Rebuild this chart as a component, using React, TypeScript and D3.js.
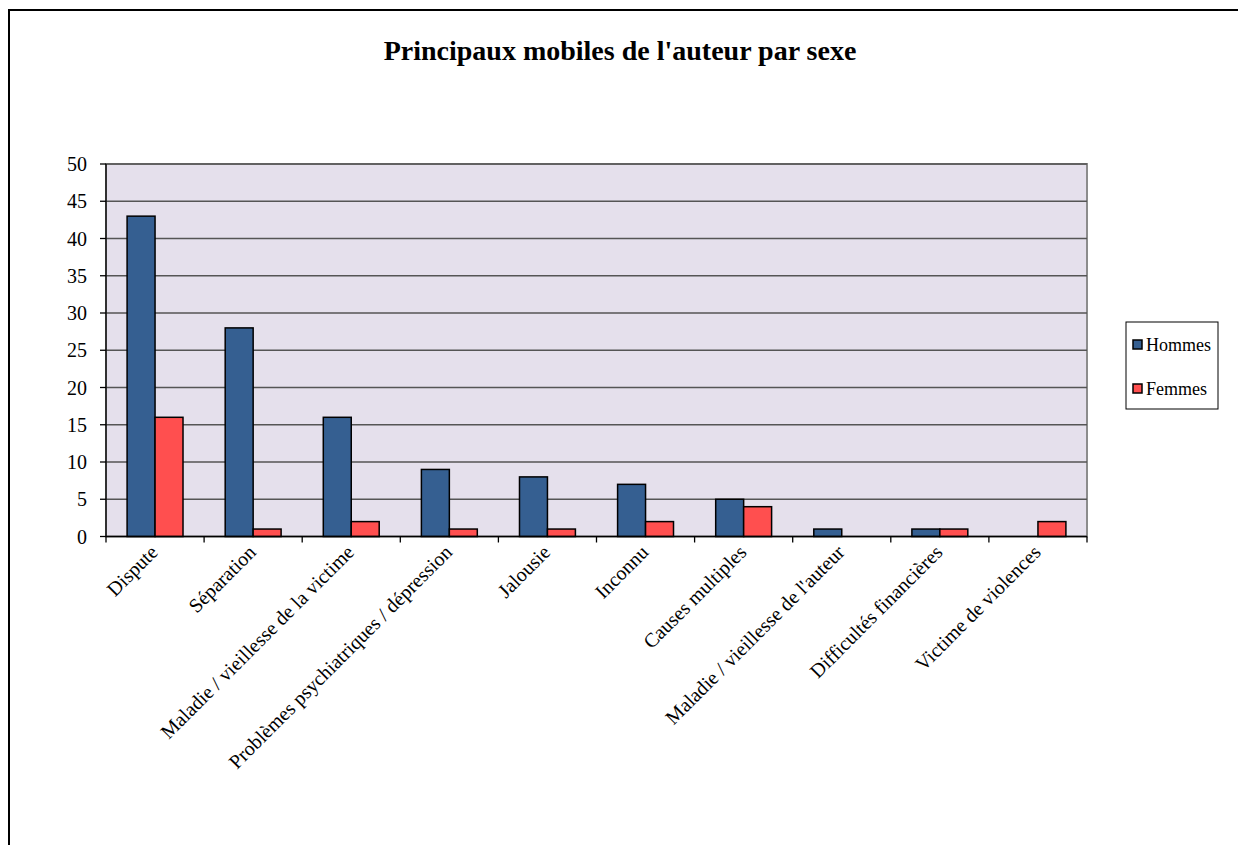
import React from "react";
import * as d3 from "d3";

const categories = [
  "Dispute",
  "Séparation",
  "Maladie / vieillesse de la victime",
  "Problèmes psychiatriques / dépression",
  "Jalousie",
  "Inconnu",
  "Causes multiples",
  "Maladie / vieillesse de l'auteur",
  "Difficultés financières",
  "Victime de violences",
];
const hommes = [43, 28, 16, 9, 8, 7, 5, 1, 1, 0];
const femmes = [16, 1, 2, 1, 1, 2, 4, 0, 1, 2];
const seriesNames = ["Hommes", "Femmes"];
const seriesColors = ["#355F91", "#FF4F4F"];
const yTicks = [0, 5, 10, 15, 20, 25, 30, 35, 40, 45, 50];

export default function App() {
  const W = 1238, H = 845;
  const left = 106, right = 1087, top = 164, bottom = 536.5;
  const x = d3.scaleBand<string>().domain(categories).range([left, right]).paddingInner(0).paddingOuter(0);
  const y = d3.scaleLinear().domain([0, 50]).range([bottom, top]);
  const bw = x.bandwidth();
  const groupW = bw * 0.57;
  const xs = d3.scaleBand<string>().domain(seriesNames).range([0, groupW]);
  const data = [hommes, femmes];
  const font = "'Liberation Serif', 'Times New Roman', serif";

  return (
    <svg width={W} height={H} style={{ position: "absolute", left: 0, top: 0 }} fontFamily={font}>
      <rect x={0} y={0} width={W} height={H} fill="#fff" />
      <rect x={9} y={10} width={W + 20} height={H + 20} fill="#fff" stroke="#000" strokeWidth={2} />
      <text x={620} y={60} textAnchor="middle" fontSize={28} fontWeight="bold">
        Principaux mobiles de l'auteur par sexe
      </text>
      <rect x={left} y={top} width={right - left} height={bottom - top} fill="#E5E0EC" stroke="#8c8c8c" strokeWidth={2} />
      {yTicks.slice(1).map((t) => (
        <line key={t} x1={left} x2={right} y1={y(t)} y2={y(t)} stroke="#555" strokeWidth={1.3} />
      ))}
      {categories.map((c, i) => {
        const gx = x(c)! + (bw - groupW) / 2;
        return (
          <g key={c}>
            {data.map((s, si) =>
              s[i] > 0 ? (
                <rect
                  key={si}
                  x={gx + xs(seriesNames[si])!}
                  y={y(s[i])}
                  width={xs.bandwidth()}
                  height={bottom - y(s[i])}
                  fill={seriesColors[si]}
                  stroke="#000"
                  strokeWidth={1.5}
                />
              ) : null
            )}
          </g>
        );
      })}
      <line x1={left} x2={left} y1={top} y2={bottom} stroke="#000" strokeWidth={1.3} />
      <line x1={left} x2={right} y1={bottom} y2={bottom} stroke="#000" strokeWidth={1.3} />
      {yTicks.map((t) => (
        <g key={t}>
          <line x1={left - 6} x2={left} y1={y(t)} y2={y(t)} stroke="#000" strokeWidth={1.3} />
          <text x={left - 19} y={y(t) + 7} textAnchor="end" fontSize={20}>
            {t}
          </text>
        </g>
      ))}
      {d3.range(categories.length + 1).map((i) => {
        const tx = left + i * bw;
        return <line key={i} x1={tx} x2={tx} y1={bottom} y2={bottom + 6} stroke="#000" strokeWidth={1.3} />;
      })}
      {categories.map((c) => {
        const cx = x(c)! + bw / 2 + 4;
        const cy = bottom + 17;
        return (
          <text key={c} x={cx} y={cy} textAnchor="end" fontSize={20} transform={`rotate(-45 ${cx} ${cy})`}>
            {c}
          </text>
        );
      })}
      <rect x={1126} y={322} width={92} height={87} fill="#fff" stroke="#000" strokeWidth={1} />
      {seriesNames.map((n, i) => (
        <g key={n}>
          <rect x={1133} y={340 + i * 44} width={9} height={9} fill={seriesColors[i]} stroke="#000" strokeWidth={1.5} />
          <text x={1146} y={351 + i * 44} fontSize={18}>
            {n}
          </text>
        </g>
      ))}
    </svg>
  );
}
